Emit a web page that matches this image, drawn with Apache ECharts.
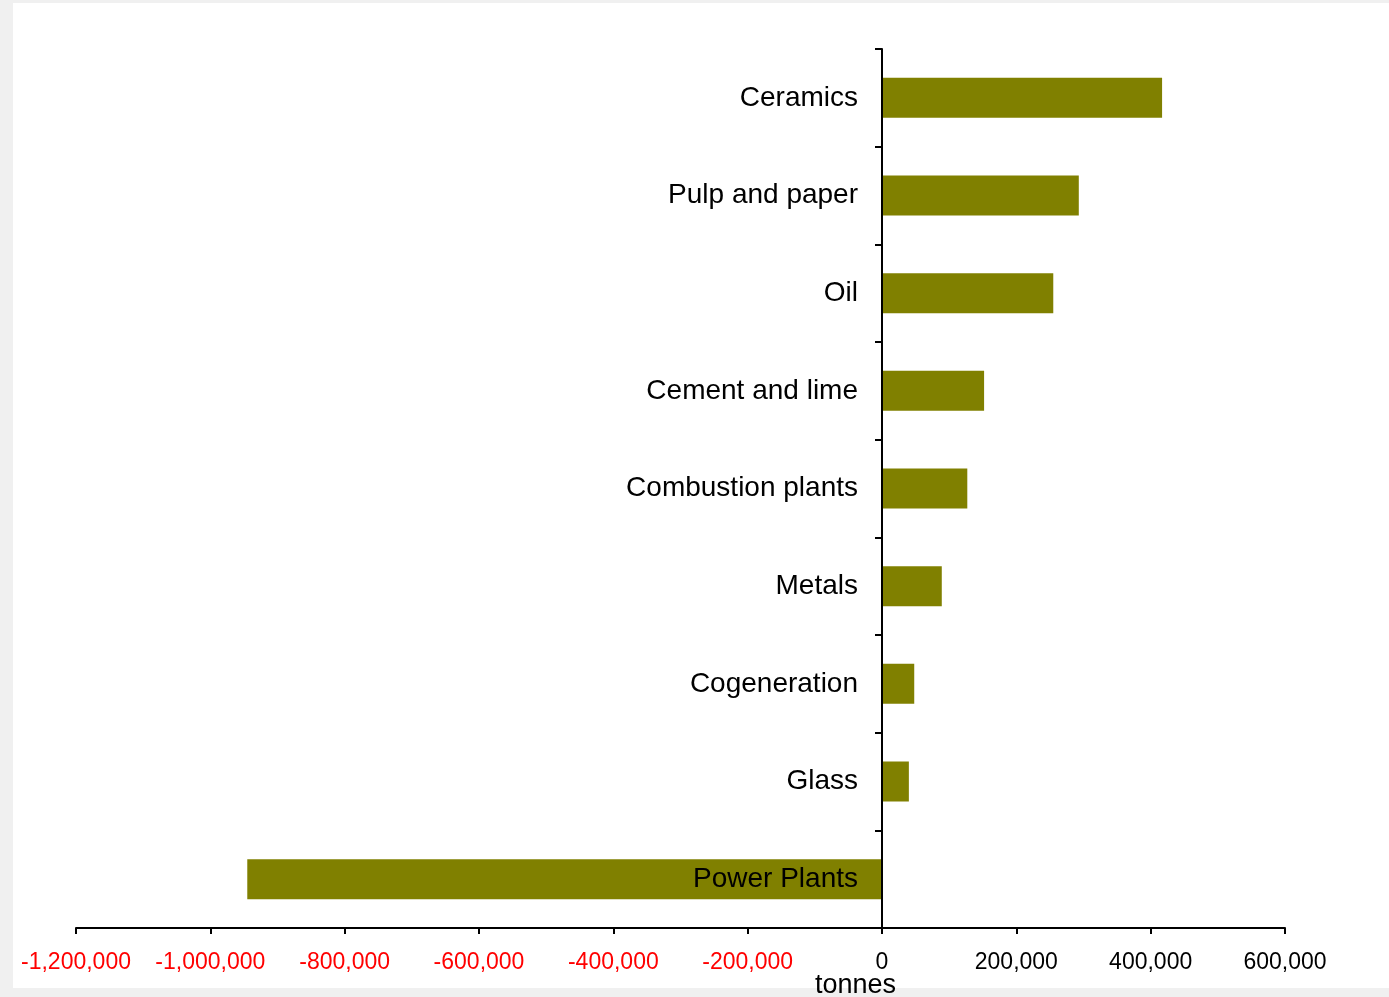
<!DOCTYPE html>
<html>
<head>
<meta charset="utf-8">
<script src="https://cdn.jsdelivr.net/npm/echarts@6/dist/echarts.min.js"></script>
<style>
html,body{margin:0;padding:0;background:#f0f0f0;}
#chart{width:1389px;height:997px;}
</style>
</head>
<body>
<div id="chart"></div>
<script>
const categories = ['Ceramics','Pulp and paper','Oil','Cement and lime','Combustion plants','Metals','Cogeneration','Glass','Power Plants'];
const values = [417000, 293000, 255000, 152000, 127000, 89000, 48000, 40000, -945000];
const axisMin = -1200000;
const axisMax = 600000;
const axisStep = 200000;
const axisName = 'tonnes';

const font = '"Liberation Sans", Arial, sans-serif';
const gridLeft = 76, gridRight = 104;
const chartWidth = 1389;
// place category labels just left of the zero line (which the y axis line sits on)
const zeroX = gridLeft + (chartWidth - gridLeft - gridRight) * (0 - axisMin) / (axisMax - axisMin);
const labelMargin = gridLeft - (zeroX - 24);

const chart = echarts.init(document.getElementById('chart'), null, {renderer:'canvas'});
chart.setOption({
  backgroundColor: '#f0f0f0',
  animation: false,
  graphic: [{
    type: 'rect', zlevel: -1, z: -10, silent: true,
    shape: {x: 13, y: 3, width: 1376, height: 985},
    style: {fill: '#ffffff'}
  }],
  grid: {left: gridLeft, right: gridRight, top: 49, bottom: 69, containLabel: false, outerBoundsMode: 'none'},
  xAxis: {
    type: 'value',
    min: axisMin, max: axisMax, interval: axisStep,
    name: axisName,
    nameLocation: 'middle',
    nameGap: 44,
    nameMoveOverlap: false,
    nameTextStyle: {fontSize: 27, color: '#000', fontFamily: font, padding: [0, 0, 0, 350]},
    axisLine: {show: true, onZero: false, lineStyle: {color: '#000', width: 2}},
    axisTick: {show: true, length: 6, lineStyle: {color: '#000', width: 2}},
    splitLine: {show: false},
    axisLabel: {
      fontSize: 23, fontFamily: font, margin: 23,
      color: function (v) { return Number(v) < 0 ? '#ff0000' : '#000000'; },
      formatter: function (v) {
        const s = Math.abs(v).toString().replace(/\B(?=(\d{3})+(?!\d))/g, ',');
        return (v < 0 ? '-' : '') + s;
      }
    }
  },
  yAxis: {
    type: 'category',
    data: categories,
    inverse: true,
    z: 5,
    axisLine: {show: true, onZero: true, lineStyle: {color: '#000', width: 2}},
    axisTick: {show: true, length: 7, lineStyle: {color: '#000', width: 2}},
    axisLabel: {fontSize: 28, fontFamily: font, color: '#000', margin: labelMargin, align: 'right'}
  },
  series: [{
    type: 'bar',
    data: values,
    barWidth: 40,
    z: 2,
    itemStyle: {color: '#808000'}
  }]
});
</script>
</body>
</html>
